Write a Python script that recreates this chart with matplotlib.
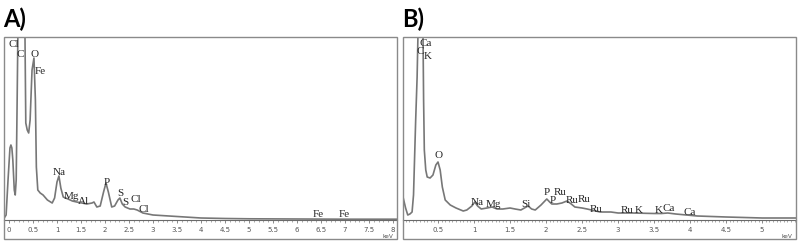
import matplotlib
matplotlib.use("Agg")
import matplotlib.pyplot as plt
from matplotlib.patches import Rectangle
from matplotlib.ticker import MultipleLocator, FuncFormatter

# ---------------- data (energy keV, intensity in arbitrary units) ----------------
energy_a = [-0.1, -0.06, -0.02, 0.02, 0.04, 0.06, 0.08, 0.11, 0.13, 0.15, 0.17, 0.2, 0.27,
            0.33, 0.35, 0.38, 0.41, 0.44, 0.48, 0.52, 0.55, 0.57, 0.6, 0.65, 0.71, 0.8,
            0.9, 0.95, 1.0, 1.04, 1.08, 1.13, 1.23, 1.32, 1.41, 1.52, 1.62, 1.73, 1.77,
            1.83, 1.9, 1.97, 2.02, 2.07, 2.14, 2.2, 2.27, 2.31, 2.36, 2.42, 2.52, 2.6,
            2.67, 2.79, 3.0, 3.5, 4.0, 4.5, 5.0, 6.0, 7.0, 8.08]
counts_a = [2, 5, 40, 72, 75, 72, 60, 30, 25, 40, 120, 250, 400,
            200, 97, 90, 87, 100, 150, 162, 120, 53, 30, 27, 25, 20,
            17, 22, 38, 44, 32, 23, 21, 19, 18, 17, 16, 17, 18,
            13, 14, 28, 37, 28, 13, 14, 20, 22, 16, 13, 11, 11,
            10, 7, 5, 3.5, 2, 1.5, 1.2, 1, 0.8, 0.8]

energy_b = [0.014, 0.05, 0.08, 0.11, 0.14, 0.16, 0.17, 0.19, 0.21, 0.24, 0.27, 0.29, 0.3,
            0.31, 0.33, 0.35, 0.39, 0.43, 0.47, 0.5, 0.53, 0.56, 0.6, 0.67, 0.75, 0.85,
            0.9, 0.97, 1.01, 1.05, 1.1, 1.18, 1.25, 1.32, 1.4, 1.5, 1.57, 1.65, 1.7,
            1.75, 1.8, 1.85, 1.93, 2.01, 2.05, 2.08, 2.15, 2.22, 2.29, 2.35, 2.4, 2.5,
            2.57, 2.75, 2.9, 3.0, 3.2, 3.5, 3.6, 3.69, 3.8, 4.1, 4.5, 5.0, 5.47]
counts_b = [23, 12, 5, 6, 8, 25, 50, 100, 143, 250, 350, 200, 120,
            70, 50, 43, 42, 45, 55, 58, 50, 33, 20, 15, 12, 9,
            10, 14, 18, 14, 11, 12, 13, 11, 11, 12, 11, 10, 12,
            14, 11, 10, 15, 21, 18, 16, 16, 17, 19, 16, 13, 12,
            11, 8, 8, 7, 7, 6.5, 6.5, 7, 6, 4, 3, 2, 2]

# element labels: (text, energy, baseline height)
labels_a = [("Cl", 0.094, 173), ("C", 0.24, 163), ("O", 0.53, 163), ("Fe", 0.65, 146),
            ("Na", 1.05, 45), ("Mg", 1.3, 21), ("Al", 1.56, 16), ("P", 2.04, 35),
            ("S", 2.31, 24), ("S", 2.43, 15), ("Cl", 2.64, 18), ("Cl", 2.82, 8),
            ("Fe", 6.45, 3), ("Fe", 6.99, 3)]
labels_b = [("Ca", 0.33, 174), ("C", 0.26, 166), ("K", 0.36, 161), ("O", 0.51, 62),
            ("Na", 1.05, 15), ("Mg", 1.27, 13), ("Si", 1.72, 13), ("P", 2.01, 25),
            ("P", 2.09, 17), ("Ru", 2.2, 25), ("Ru", 2.36, 17), ("Ru", 2.53, 18),
            ("Ru", 2.7, 8), ("Ru", 3.13, 7), ("K", 3.28, 7), ("K", 3.56, 7),
            ("Ca", 3.7, 9), ("Ca", 3.99, 5)]

ticks_a = [0, 0.5, 1, 1.5, 2, 2.5, 3, 3.5, 4, 4.5, 5, 5.5, 6, 6.5, 7, 7.5, 8]
ticks_b = [0.5, 1, 1.5, 2, 2.5, 3, 3.5, 4, 4.5, 5]

W, H = 800, 245
fig = plt.figure(figsize=(8, 2.45), dpi=100)

def fx(px):
    return px / W

def fy(py):
    return 1 - py / H

line_col = "#777777"
frame_col = "#8a8a8a"
text_col = "#262626"
serif = ["Liberation Serif", "DejaVu Serif"]

def panel(left_px, right_px, xlim, energy, counts, labels, ticks, minor, tag):
    top_px, base_px, bot_px = 37, 220, 239
    # outer frame
    fig.patches.append(Rectangle((fx(left_px), fy(bot_px)),
                                 fx(right_px) - fx(left_px), fy(top_px) - fy(bot_px),
                                 transform=fig.transFigure, fill=False,
                                 edgecolor=frame_col, linewidth=1.0))
    ax = fig.add_axes([fx(left_px), fy(base_px),
                       fx(right_px) - fx(left_px), fy(top_px) - fy(base_px)])
    ax.set_facecolor("none")
    ax.plot(energy, counts, color=line_col, linewidth=1.2)
    ax.set_xlim(*xlim)
    ax.set_ylim(0, 183)
    for s in ["top", "left", "right"]:
        ax.spines[s].set_visible(False)
    ax.spines["bottom"].set_color("#6a6a6a")
    ax.spines["bottom"].set_linewidth(0.8)
    ax.set_yticks([])
    ax.set_xticks(ticks)
    ax.xaxis.set_major_formatter(FuncFormatter(lambda v, p: f"{v:g}"))
    ax.xaxis.set_minor_locator(MultipleLocator(minor))
    ax.tick_params(axis="x", which="major", length=2.5, width=0.6, color="#777777",
                   labelsize=5, labelcolor="#555555", pad=2.5)
    ax.tick_params(axis="x", which="minor", length=1.5, width=0.5, color="#888888")
    for txt, e, h in labels:
        ax.text(e, h, txt, ha="center", va="baseline", fontsize=8,
                family=serif, color=text_col, clip_on=False)
    fig.text(fx(right_px - 9), fy(236.5), "keV", ha="center", va="center",
             fontsize=4.2, color="#555555")
    fig.text(fx(left_px - 1), fy(27), tag, ha="left", va="baseline",
             fontsize=17, fontweight="bold", family=["Lato", "DejaVu Sans"],
             color="black")
    return ax

panel(4, 397, (-0.104, 8.083), energy_a, counts_a, labels_a, ticks_a, 0.1, "A)")
panel(403, 796, (0.014, 5.47), energy_b, counts_b, labels_b, ticks_b, 0.05, "B)")

fig.savefig("out.png", dpi=100)
